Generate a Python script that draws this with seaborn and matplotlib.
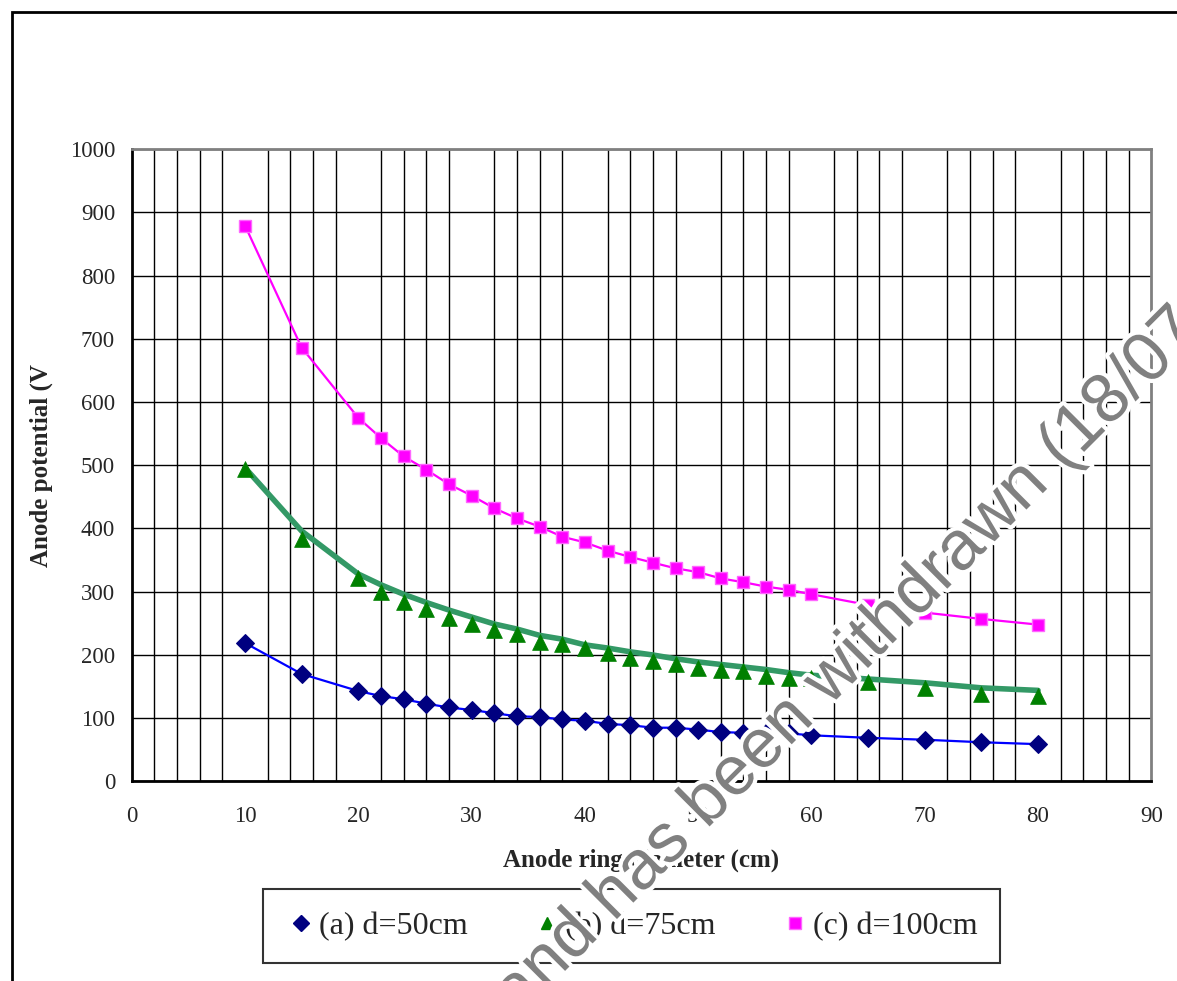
import matplotlib
matplotlib.use("Agg")
import matplotlib.pyplot as plt
import matplotlib.patheffects as pe
from matplotlib.lines import Line2D
from matplotlib.patches import Rectangle
import seaborn as sns

# ---- data ----
diam = [10, 15, 20, 22, 24, 26, 28, 30, 32, 34, 36, 38, 40, 42, 44, 46, 48, 50,
        52, 54, 56, 58, 60, 65, 70, 75, 80]
pot_50 = [219, 170, 143, 135, 130, 123, 117, 113, 108, 103, 102, 98, 96, 91, 89,
          85, 85, 82, 78, 77, 77, 76, 73, 69, 66, 62, 59]
pot_75 = [494, 384, 321, 300, 284, 273, 259, 249, 239, 233, 221, 217, 211, 203,
          196, 190, 186, 180, 176, 174, 167, 164, 163, 157, 147, 139, 135]
trend_75 = [496, 396, 328, 311, 296, 283, 271, 260, 249, 241, 231, 225, 216, 211,
            205, 200, 194, 189, 185, 181, 177, 172, 168, 162, 156, 148, 144]
pot_100 = [879, 686, 575, 543, 514, 493, 470, 452, 432, 416, 403, 387, 378, 365,
           355, 346, 337, 331, 321, 315, 308, 303, 296, 279, 267, 257, 248]
labels = ["(a) d=50cm", "(b) d=75cm", "(c) d=100cm"]
x_ticks = list(range(0, 91, 10))
y_ticks = list(range(0, 1001, 100))

sns.set_style("white")
plt.rcParams['font.family'] = ['Liberation Serif', 'DejaVu Serif']

fig = plt.figure(figsize=(11.77, 9.81), dpi=100)
ax = fig.add_axes([0.1119, 0.2034, 0.9782 - 0.1119, 0.8481 - 0.2034])

# grid
ax.set_xlim(0, 90)
ax.set_ylim(0, 1000)
ax.set_xticks(x_ticks)
ax.set_yticks(y_ticks)
ax.set_xticks(list(range(0, 91, 2)), minor=True)
ax.grid(True, which='major', axis='y', color='black', lw=1.0, zorder=0)
ax.grid(True, which='minor', axis='x', color='black', lw=1.0, zorder=0)
ax.grid(False, which='major', axis='x')
ax.set_axisbelow(True)

# series
sns.lineplot(x=diam, y=pot_100, ax=ax, color='#FF00FF', lw=1.6, marker='s',
             markersize=9, markerfacecolor='#FF00FF', markeredgecolor='#FF66FF',
             markeredgewidth=1.0, zorder=3)
sns.lineplot(x=diam, y=trend_75, ax=ax, color='#339966', lw=4.0, zorder=3)
sns.scatterplot(x=diam, y=pot_75, ax=ax, color='#008000', marker='^', s=130,
                edgecolor='#008000', linewidth=0.5, zorder=4)
sns.lineplot(x=diam, y=pot_50, ax=ax, color='#0000FF', lw=1.6, marker='D',
             markersize=9, markerfacecolor='#000080', markeredgecolor='#000080',
             zorder=3)

# spines / ticks
for s in ['left', 'bottom']:
    ax.spines[s].set_color('black')
    ax.spines[s].set_linewidth(2.0)
for s in ['top', 'right']:
    ax.spines[s].set_color('#808080')
    ax.spines[s].set_linewidth(2.0)
ax.tick_params(axis='both', which='major', direction='out', length=6, width=1.5,
               color='black', labelsize=16.5, pad=6)
ax.tick_params(axis='x', which='major', pad=12)
ax.tick_params(axis='both', which='minor', length=0)

ax.set_xlabel("Anode ring diameter (cm)", fontsize=18, fontweight='bold', labelpad=15)
ax.set_ylabel("Anode potential (V", fontsize=18, fontweight='bold', labelpad=12)

# legend (markers only)
handles = [
    Line2D([], [], ls='none', marker='D', markersize=8, markerfacecolor='#000080',
           markeredgecolor='#000080'),
    Line2D([], [], ls='none', marker='^', markersize=9, markerfacecolor='#008000',
           markeredgecolor='#008000'),
    Line2D([], [], ls='none', marker='s', markersize=8, markerfacecolor='#FF00FF',
           markeredgecolor='#FF66FF'),
]
leg = fig.legend(handles, labels, loc='center', bbox_to_anchor=(0.5365, 0.0556),
                 ncol=3, fontsize=23, frameon=True, fancybox=False,
                 edgecolor='black', handletextpad=0.05, columnspacing=2.0,
                 borderpad=0.7, handlelength=1.0, borderaxespad=0)
leg.get_frame().set_linewidth(1.5)

# outer chart border
fig.patches.append(Rectangle((12 / 1177, -0.1), 1.2, 1 - 12 / 981 + 0.1,
                             transform=fig.transFigure, fill=False,
                             edgecolor='black', lw=2.0, zorder=0))

# watermark
fig.text(518 / 1177, 1 - 1018 / 981, "and has been withdrawn (18/07/",
         rotation=45, rotation_mode='anchor', ha='left', va='baseline',
         fontsize=50, color='#808080', family='Liberation Sans', zorder=20,
         path_effects=[pe.withStroke(linewidth=6, foreground='white')])

fig.savefig("out.png", dpi=100)
